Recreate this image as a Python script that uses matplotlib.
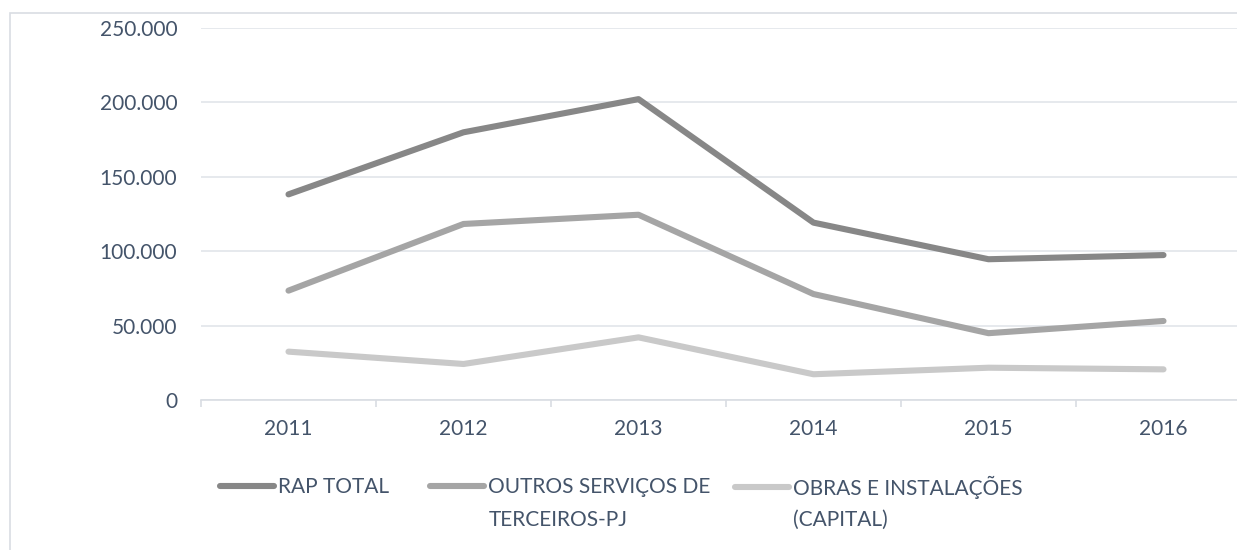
import matplotlib
matplotlib.use("Agg")
import matplotlib.pyplot as plt
from matplotlib.patches import Rectangle
from matplotlib.ticker import FuncFormatter, FixedLocator

anos = ["2011", "2012", "2013", "2014", "2015", "2016"]
rap_total = [138200, 179900, 202200, 119200, 94600, 97400]
outros_servicos = [73500, 118300, 124500, 71200, 44900, 53100]
obras_instalacoes = [32500, 24200, 42100, 17300, 21700, 20600]

# legend label split in two lines, as in the original chart
series = [
    (("RAP TOTAL", ""), rap_total, "#878787"),
    (("OUTROS SERVIÇOS DE", "TERCEIROS-PJ"), outros_servicos, "#a5a5a5"),
    (("OBRAS E INSTALAÇÕES", "(CAPITAL)"), obras_instalacoes, "#c9c9c9"),
]
legend_x = [220, 430, 735]  # left edge of each legend entry, pixels

TXT = "#44546a"
GRID = "#e1e5ea"
plt.rcParams["font.family"] = ["Lato", "DejaVu Sans"]

fig = plt.figure(figsize=(12.37, 5.5), dpi=100)
# chart border (right and bottom edges fall outside the picture)
fig.patches.append(Rectangle((10 / 1237, -0.1), 1.2, (537 + 55) / 550,
                             transform=fig.transFigure, fill=False,
                             edgecolor="#d9dde3", lw=1.2))

ax = fig.add_axes([201 / 1237, 150 / 550, 1050 / 1237, 372 / 550])
x = range(len(anos))
lines = []
for label, vals, color in series:
    ln, = ax.plot(x, vals, color=color, lw=4.4, solid_capstyle="round",
                  solid_joinstyle="round")
    lines.append(ln)

ax.set_xlim(-0.5, len(anos) - 0.5)
ax.set_ylim(0, 250000)
ax.set_yticks(range(0, 250001, 50000))
ax.yaxis.set_major_formatter(FuncFormatter(lambda v, p: f"{int(v):,}".replace(",", ".")))
ax.set_xticks(list(x))
ax.set_xticklabels(anos)
ax.xaxis.set_minor_locator(FixedLocator([i - 0.5 for i in range(len(anos) + 1)]))

ax.grid(axis="y", color=GRID, lw=1.2)
ax.set_axisbelow(True)
for s in ["top", "right", "left"]:
    ax.spines[s].set_visible(False)
ax.spines["bottom"].set_color("#d9dde3")
ax.spines["bottom"].set_linewidth(1.2)

ax.tick_params(axis="y", length=0, pad=17, labelsize=15, labelcolor=TXT)
ax.tick_params(axis="x", which="major", length=0, pad=14, labelsize=15, labelcolor=TXT)
ax.tick_params(axis="x", which="minor", length=5, width=1.2, color="#d9dde3")

legends = []
for (label, _, _), ln, lx in zip(series, lines, legend_x):
    leg = fig.legend(handles=[ln], labels=[label[0]], loc="center left",
                     bbox_to_anchor=(lx / 1237, 1 - 487 / 550), frameon=False,
                     fontsize=15, handlelength=2.6, handletextpad=0.2,
                     borderpad=0, borderaxespad=0)
    for t in leg.get_texts():
        t.set_color(TXT)
    legends.append(leg)

fig.canvas.draw()
inv = fig.transFigure.inverted()
for (label, _, _), leg in zip(series, legends):
    if label[1]:
        bb = leg.get_texts()[0].get_window_extent()
        x0 = inv.transform((bb.x0, 0))[0]
        fig.text(x0, 1 - 520 / 550, label[1], fontsize=15, color=TXT,
                 ha="left", va="center")

fig.savefig("out.png", dpi=100)
